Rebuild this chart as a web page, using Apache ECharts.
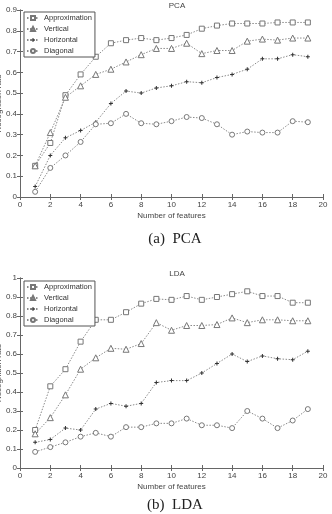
<!DOCTYPE html>
<html>
<head>
    <meta charset="utf-8">
    <script src="https://cdn.jsdelivr.net/npm/echarts@6/dist/echarts.min.js"></script>
</head>
<body style="margin: 0; background: #fff">
    <div id="main" style="width: 332px; height: 514px"></div>
    <script type="text/javascript">
        var features = [1, 2, 3, 4, 5, 6, 7, 8, 9, 10, 11, 12, 13, 14, 15, 16, 17, 18, 19];
        var names = ['Approximation', 'Vertical', 'Horizontal', 'Diagonal'];

        // PCA
        var pcaApprox = [0.15, 0.26, 0.49, 0.59, 0.675, 0.74, 0.755, 0.765, 0.755, 0.765, 0.78, 0.81, 0.825, 0.835, 0.835, 0.835, 0.84, 0.84, 0.84];
        var pcaVert = [0.15, 0.31, 0.48, 0.535, 0.59, 0.615, 0.65, 0.685, 0.715, 0.715, 0.74, 0.69, 0.705, 0.705, 0.75, 0.76, 0.755, 0.765, 0.765];
        var pcaHoriz = [0.05, 0.20, 0.285, 0.32, 0.36, 0.45, 0.51, 0.50, 0.525, 0.535, 0.555, 0.55, 0.575, 0.59, 0.615, 0.665, 0.665, 0.685, 0.675];
        var pcaDiag = [0.025, 0.14, 0.20, 0.265, 0.35, 0.355, 0.40, 0.355, 0.35, 0.365, 0.385, 0.38, 0.35, 0.30, 0.315, 0.31, 0.31, 0.365, 0.36];

        // LDA
        var ldaApprox = [0.20, 0.43, 0.52, 0.665, 0.78, 0.78, 0.82, 0.865, 0.89, 0.885, 0.905, 0.885, 0.90, 0.915, 0.93, 0.905, 0.905, 0.87, 0.87];
        var ldaVert = [0.18, 0.265, 0.385, 0.52, 0.58, 0.63, 0.625, 0.655, 0.765, 0.725, 0.75, 0.75, 0.755, 0.79, 0.765, 0.78, 0.78, 0.775, 0.775];
        var ldaHoriz = [0.135, 0.15, 0.21, 0.20, 0.31, 0.34, 0.325, 0.34, 0.45, 0.46, 0.46, 0.50, 0.55, 0.60, 0.56, 0.59, 0.575, 0.57, 0.615];
        var ldaDiag = [0.085, 0.11, 0.135, 0.165, 0.185, 0.165, 0.215, 0.215, 0.235, 0.235, 0.26, 0.225, 0.225, 0.21, 0.30, 0.26, 0.21, 0.25, 0.31];

        var plus = 'path://M3,0h2v3h3v2h-3v3h-2v-3h-3v-2h3z';
        var symbols = ['rect', 'triangle', plus, 'circle'];
        var symSize = [5, 6, 4, 5];
        var lineCol = '#8a8a8a';
        var font = 'Liberation Sans';

        function pairs(arr) {
            return features.map(function (f, i) { return [f, arr[i]]; });
        }

        function makeSeries(idx, data) {
            var out = [];
            for (var i = 0; i < 4; i++) {
                out.push({
                    name: names[i],
                    type: 'line',
                    xAxisIndex: idx * 2,
                    yAxisIndex: idx * 2,
                    data: pairs(data[i]),
                    symbol: symbols[i],
                    symbolSize: symSize[i],
                    showAllSymbol: true,
                    lineStyle: { color: lineCol, width: 1, type: [1.5, 1.5] },
                    itemStyle: i === 2
                        ? { color: '#333', borderColor: '#333', borderWidth: 0 }
                        : { color: '#fff', borderColor: '#777', borderWidth: 1 },
                    emphasis: { disabled: true }
                });
            }
            return out;
        }

        function yLabel(v) {
            return String(Math.round(v * 10) / 10);
        }

        var tickStyle = { inside: true, length: 3, lineStyle: { color: '#666' } };
        var labelStyle = { fontFamily: font, fontSize: 8, color: '#444' };

        function xAxes(idx) {
            return [{
                type: 'value', gridIndex: idx, min: 0, max: 20, interval: 2,
                name: 'Number of features', nameLocation: 'middle', nameGap: 15,
                nameTextStyle: labelStyle, nameMoveOverlap: false,
                axisLine: { lineStyle: { color: '#666' } },
                axisTick: tickStyle,
                axisLabel: Object.assign({ margin: 4, hideOverlap: false, showMinLabel: true, showMaxLabel: true }, labelStyle),
                splitLine: { show: false }
            }, {
                type: 'value', gridIndex: idx, min: 0, max: 20, interval: 2, position: 'top',
                axisLine: { lineStyle: { color: '#666' } },
                axisTick: tickStyle, axisLabel: { show: false }, splitLine: { show: false }
            }];
        }

        function yAxes(idx, max) {
            return [{
                type: 'value', gridIndex: idx, min: 0, max: max, interval: 0.1,
                name: 'Recognition rate', nameLocation: 'middle', nameGap: 17,
                nameTextStyle: labelStyle, nameMoveOverlap: false,
                axisLine: { lineStyle: { color: '#666' } },
                axisTick: tickStyle,
                axisLabel: Object.assign({ margin: 3, formatter: yLabel, hideOverlap: false, showMinLabel: true, showMaxLabel: true }, labelStyle),
                splitLine: { show: false }
            }, {
                type: 'value', gridIndex: idx, min: 0, max: max, interval: 0.1, position: 'right',
                axisLine: { lineStyle: { color: '#666' } },
                axisTick: tickStyle, axisLabel: { show: false }, splitLine: { show: false }
            }];
        }

        function legend(top) {
            return {
                data: names, left: 24, top: top, orient: 'vertical',
                itemWidth: 12, itemHeight: 5, itemGap: 3,
                padding: [2, 3, 2, 2],
                borderColor: '#555', borderWidth: 1, backgroundColor: '#fff',
                textStyle: { fontFamily: font, fontSize: 7.5, color: '#333' },
                selectedMode: false
            };
        }

        var myChart = echarts.init(document.getElementById('main'), null, { renderer: 'canvas' });

        var titleStyle = { fontFamily: font, fontSize: 8, fontWeight: 'normal', color: '#444' };
        var capStyle = { fontFamily: 'Liberation Serif', fontSize: 15, fontWeight: 'normal', color: '#222' };

        var option = {
            animation: false,
            title: [
                { text: 'PCA', left: 172, top: -3, textAlign: 'center', textStyle: titleStyle },
                { text: 'LDA', left: 172, top: 265, textAlign: 'center', textStyle: titleStyle },
                { text: '(a)  PCA', left: 170, top: 227, textAlign: 'center', textStyle: capStyle },
                { text: '(b)  LDA', left: 170, top: 493, textAlign: 'center', textStyle: capStyle }
            ],
            grid: [
                { left: 20, right: 9, top: 10, height: 187, containLabel: false, outerBoundsMode: 'none' },
                { left: 20, right: 9, top: 278, height: 190, containLabel: false, outerBoundsMode: 'none' }
            ],
            legend: [legend(12), legend(281)],
            xAxis: xAxes(0).concat(xAxes(1)),
            yAxis: yAxes(0, 0.9).concat(yAxes(1, 1)),
            series: makeSeries(0, [pcaApprox, pcaVert, pcaHoriz, pcaDiag])
                .concat(makeSeries(1, [ldaApprox, ldaVert, ldaHoriz, ldaDiag]))
        };

        myChart.setOption(option);
    </script>
</body>
</html>
